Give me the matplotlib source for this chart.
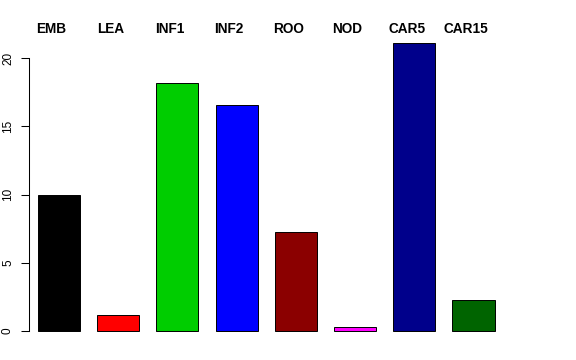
import numpy as np
import matplotlib
matplotlib.use('Agg')
import matplotlib.pyplot as plt

# data
groups = ['EMB', 'LEA', 'INF1', 'INF2', 'ROO', 'NOD', 'CAR5', 'CAR15']
values = [9.95, 1.2, 18.2, 16.55, 7.25, 0.3, 21.1, 2.25]
colors = ['#000000', '#FF0000', '#00CD00', '#0000FF', '#8B0000',
          '#FF00FF', '#00008B', '#006400']
yticks = [0, 5, 10, 15, 20]

plt.rcParams['font.family'] = ['Liberation Sans', 'DejaVu Sans']

fig = plt.figure(figsize=(5.76, 3.6), dpi=100, facecolor='white')
# axes placed in pixel terms: left spine at x=29, bottom 342, top 31
ax = fig.add_axes([29/576, 18/360, (512-29)/576, (342-31)/360])

x = np.arange(len(groups))
ax.bar(x, values, width=0.71, color=colors, edgecolor='black', linewidth=0.7)

ax.set_xlim(-0.507, 7.65)
ax.set_ylim(-0.806, 21.98)

for s in ['top', 'right', 'bottom']:
  ax.spines[s].set_visible(False)
ax.spines['left'].set_bounds(0, 20)
ax.spines['left'].set_linewidth(0.75)
ax.set_xticks([])
ax.set_yticks(yticks)
ax.set_yticklabels([str(t) for t in yticks], rotation=90, va='center',
                   fontsize=8.5)
ax.tick_params(axis='y', length=5.8, width=0.75, pad=5)

# group names above the plot
for xi, name in zip(x, groups):
  ax.text(xi - 0.13, 1.008, name, transform=ax.get_xaxis_transform(),
          ha='center', va='center', fontsize=9.8, fontweight='bold')

fig.savefig('out.png', dpi=100)
